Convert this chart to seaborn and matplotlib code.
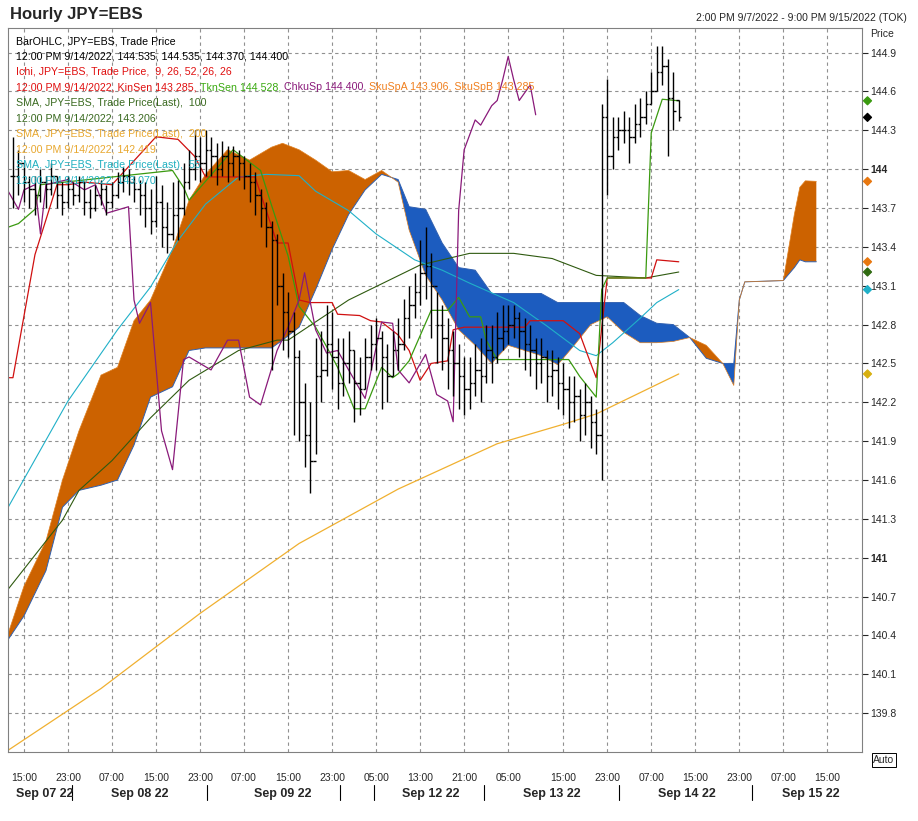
import matplotlib
matplotlib.use("Agg")
import matplotlib.pyplot as plt
import numpy as np
import pandas as pd
import seaborn as sns

# ---- price bars (hour index, 0 = Sep 07 15:00) ----
bar_idx = list(range(-2, 120))
closes = [143.95,144.05,143.90,143.85,143.80,143.90,143.85,143.95,143.80,143.75,
          143.85,143.80,143.90,143.75,143.70,143.80,143.85,143.75,143.80,143.90,
          143.95,143.90,143.85,143.80,143.70,143.60,143.75,143.55,143.50,143.65,
          143.70,143.90,144.00,144.10,144.05,144.15,144.10,144.00,144.10,144.05,
          144.10,144.05,143.95,143.90,143.80,143.70,143.55,143.45,143.10,142.90,
          142.75,142.55,142.20,141.95,141.75,142.40,142.45,142.65,142.55,142.35,
          142.50,142.60,142.35,142.30,142.55,142.65,142.70,142.55,142.40,142.60,
          142.65,142.85,142.95,143.05,143.20,143.25,143.10,142.80,142.70,142.60,
          142.50,142.40,142.30,142.35,142.45,142.40,142.60,142.55,142.70,142.75,
          142.80,142.85,142.75,142.65,142.60,142.50,142.55,142.40,142.45,142.35,
          142.30,142.20,142.25,142.10,142.20,142.05,141.95,144.40,144.10,144.25,
          144.30,144.30,144.25,144.35,144.40,144.50,144.60,144.75,144.80,144.55,144.45,144.40]
highs = [144.25,144.15,144.05,143.95,143.95,144.00,143.95,144.05,143.95,143.90,
         143.95,143.90,143.95,143.90,143.85,143.88,143.92,143.88,143.90,143.98,
         144.02,144.00,143.95,143.92,143.90,143.85,143.95,143.88,143.75,143.90,
         143.92,144.05,144.15,144.30,144.25,144.30,144.25,144.20,144.22,144.18,
         144.18,144.15,144.10,144.05,143.98,143.85,143.75,143.60,143.50,143.20,
         143.05,142.90,142.60,142.35,142.20,142.70,142.75,142.95,142.90,142.70,
         142.70,142.75,142.60,142.55,142.70,142.80,142.85,142.75,142.65,142.75,
         142.85,143.00,143.10,143.20,143.45,143.55,143.35,143.05,142.95,142.85,
         142.75,142.65,142.55,142.55,142.65,142.70,142.80,142.80,142.90,142.95,
         142.95,142.95,142.90,142.85,142.80,142.70,142.70,142.60,142.60,142.55,
         142.50,142.40,142.40,142.30,142.35,142.25,142.15,144.50,144.70,144.40,
         144.40,144.45,144.40,144.50,144.55,144.60,144.75,144.95,144.95,144.85,144.75,144.535]
lows = [143.70,143.80,143.75,143.70,143.65,143.75,143.70,143.80,143.70,143.65,
        143.70,143.72,143.75,143.65,143.62,143.68,143.72,143.65,143.70,143.78,
        143.82,143.80,143.75,143.65,143.55,143.50,143.55,143.40,143.35,143.45,
        143.45,143.65,143.85,143.92,143.90,143.95,143.95,143.88,143.95,143.90,
        143.95,143.92,143.85,143.75,143.65,143.55,143.40,142.45,142.95,142.60,
        142.55,141.95,141.90,141.70,141.50,141.80,142.20,142.40,142.30,142.15,
        142.25,142.35,142.05,142.10,142.30,142.45,142.45,142.15,142.20,142.40,
        142.45,142.60,142.70,142.85,142.95,143.00,142.70,142.50,142.45,142.30,
        142.25,142.15,142.10,142.15,142.25,142.20,142.35,142.35,142.50,142.60,
        142.65,142.70,142.55,142.45,142.40,142.30,142.35,142.20,142.25,142.15,
        142.10,142.00,142.05,141.90,141.95,141.85,141.80,141.60,143.80,144.00,
        144.15,144.20,144.05,144.20,144.25,144.35,144.50,144.60,144.65,144.10,144.30,144.37]
opens = [closes[0]] + closes[:-1]
opens[-1] = 144.535

# ---- ichimoku cloud ----
cloud_idx = [-3,0,4,7,10,14,17,20,23,27,30,33,37,41,45,47,50,53,56,59,62,65,68,
             70,73,76,79,82,85,88,91,94,97,100,103,106,109,112,115,118,121,124,127,129,
             130,131,138,140,141,142,144]
span_a = [140.40,140.78,141.13,141.60,141.98,142.41,142.47,142.83,142.99,143.38,143.76,143.96,
          144.15,144.07,144.17,144.20,144.15,144.07,143.98,143.99,143.92,143.99,143.90,
          143.53,143.18,142.99,142.76,142.64,142.50,142.64,142.60,142.56,142.49,142.64,142.80,
          142.86,142.74,142.66,142.66,142.67,142.70,142.64,142.50,142.33,
          142.99,143.13,143.14,143.65,143.86,143.91,143.906]
span_b = [140.36,140.55,140.90,141.39,141.52,141.56,141.60,141.87,142.24,142.32,142.60,142.62,
          142.62,142.62,142.62,142.68,142.78,143.07,143.38,143.65,143.84,143.96,143.92,
          143.71,143.69,143.43,143.24,143.22,143.04,143.04,143.04,143.04,142.97,142.97,142.97,
          142.97,142.97,142.87,142.81,142.80,142.70,142.54,142.50,142.50,
          142.99,143.13,143.14,143.24,143.30,143.285,143.285]

# ---- indicator lines (hour index, price) ----
kijun_x = [-3,-2,2,6,8,11,16,24,28,31,33,42,46,48,50,52,56,57,61,63,65,68,70,72,74,77,78,80,
           91,92,98,101,103,104,106,114,115,119]
kijun_y = [142.39,142.39,143.34,143.88,143.88,143.90,143.88,144.25,144.23,144.10,143.94,143.94,
           143.43,143.43,142.99,142.97,142.97,142.88,142.87,142.83,142.82,142.72,142.60,142.37,
           142.50,142.52,142.76,142.78,142.78,142.83,142.83,142.73,142.50,142.39,143.16,143.16,
           143.30,143.285]
tenkan_x = [-3,-1,2,3,27,29,30,38,43,45,48,50,53,55,57,60,62,65,67,68,70,74,77,79,81,83,84,86,
            99,101,104,105,106,113,114,116,119]
tenkan_y = [143.55,143.58,143.69,143.88,143.99,143.86,143.76,144.15,143.99,143.72,143.33,142.94,
            142.78,142.63,142.47,142.15,142.15,142.47,142.39,142.42,142.52,142.91,142.91,143.01,
            142.86,142.86,142.68,142.53,142.53,142.40,142.24,143.07,143.16,143.16,144.28,144.54,144.528]
chikou_x = [-3,-1,0,2,3,4,8,11,13,15,19,20,21,23,25,27,29,30,34,37,39,41,43,46,48,50,51,53,55,57,
            59,62,65,67,68,70,73,75,77,78,79,80,82,83,85,86,87,88,89,90,92,93]
chikou_y = [143.84,143.69,143.84,143.88,143.50,143.88,143.92,143.84,143.88,143.66,143.71,142.99,
            142.81,142.97,141.98,141.68,142.53,142.55,142.45,142.68,142.68,142.24,142.18,142.60,
            142.78,142.99,143.20,142.76,142.58,142.60,142.45,142.23,142.82,142.81,142.45,142.35,
            142.57,142.26,142.21,142.05,143.68,144.15,144.38,144.34,144.49,144.53,144.69,144.87,
            144.69,144.53,144.65,144.42]
sma100_x = [-3,7,10,16,23,30,39,46,48,59,72,76,81,89,96,104,113,119]
sma100_y = [140.75,141.29,141.52,141.75,142.08,142.37,142.60,142.68,142.68,142.99,143.26,143.30,
            143.35,143.35,143.31,143.18,143.16,143.206]
sma55_x = [-3,8,17,23,28,33,39,44,50,53,59,64,71,76,81,89,95,101,104,107,112,115,119]
sma55_y = [141.38,142.21,142.76,143.09,143.45,143.73,143.94,143.96,143.95,143.83,143.68,143.50,
           143.30,143.22,143.12,142.97,142.79,142.60,142.56,142.66,142.85,142.97,143.07]
sma200_x = [-3,14,32,50,68,86,98,104,119]
sma200_y = [139.51,139.99,140.57,141.11,141.53,141.88,142.03,142.11,142.419]

tick_pos = [0,8,16,24,32,40,48,56,64,72,80,88,98,106,114,122,130,138,146]
tick_txt = ["15:00","23:00","07:00","15:00","23:00","07:00","15:00","23:00","05:00","13:00",
            "21:00","05:00","15:00","23:00","07:00","15:00","23:00","07:00","15:00"]
day_pos = [3.8,21,47,74,96,120.5,143]
day_txt = ["Sep 07 22","Sep 08 22","Sep 09 22","Sep 12 22","Sep 13 22","Sep 14 22","Sep 15 22"]
day_sep = [8.7,33.3,57.5,63.6,83.6,108.2,132.4]
price_ticks = [139.8,140.1,140.4,140.7,141.0,141.3,141.6,141.9,142.2,142.5,142.8,143.1,143.4,
               143.7,144.0,144.3,144.6,144.9]
marker_vals = [144.528,144.400,143.906,143.285,143.206,143.070,142.419]
marker_cols = ["#3a9a10","black","#e87810","#e87810","#2f6a10","#20b0c8","#d8b010"]

sns.set_style("white")
plt.rcParams['font.family'] = ['Arial', 'Liberation Sans', 'DejaVu Sans']

fig = plt.figure(figsize=(9.18, 8.21), dpi=100)
ax = fig.add_axes([8/918, 1-752/821, 854/918, 724/821])

ca = np.array(span_a); cb = np.array(span_b)
ax.fill_between(cloud_idx, ca, cb, where=ca >= cb, interpolate=True, color="#cc6200", lw=0)
ax.fill_between(cloud_idx, ca, cb, where=ca < cb, interpolate=True, color="#1c5cbf", lw=0)
sns.lineplot(x=cloud_idx, y=span_b, ax=ax, color="#3060b0", lw=0.7)
sns.lineplot(x=cloud_idx, y=span_a, ax=ax, color="#e08020", lw=0.5)

sns.lineplot(x=sma200_x, y=sma200_y, ax=ax, color="#f0b030", lw=0.9)
sns.lineplot(x=sma100_x, y=sma100_y, ax=ax, color="#2f5a10", lw=0.8)
sns.lineplot(x=sma55_x, y=sma55_y, ax=ax, color="#20b0c8", lw=0.8)
sns.lineplot(x=kijun_x, y=kijun_y, ax=ax, color="#d01010", lw=0.9)
sns.lineplot(x=tenkan_x, y=tenkan_y, ax=ax, color="#3a9a10", lw=0.9)
sns.lineplot(x=chikou_x, y=chikou_y, ax=ax, color="#8a1a7a", lw=0.9)

bars = pd.DataFrame({"i": bar_idx, "o": opens, "h": highs, "l": lows, "c": closes})
ax.vlines(bars.i, bars.l, bars.h, color="black", lw=1.0)
ax.hlines(bars.o, bars.i - 0.45, bars.i, color="black", lw=1.0)
ax.hlines(bars.c, bars.i, bars.i + 0.45, color="black", lw=1.0)

ax.set_xlim(-2.9, 152.3)
ax.set_ylim(139.5, 145.09)
ax.yaxis.tick_right()
ax.set_yticks(price_ticks)
ax.set_yticklabels(["141" if v == 141.0 else "144" if v == 144.0 else f"{v:.1f}" for v in price_ticks])
for lab in ax.get_yticklabels():
    if lab.get_text() in ("141", "144"):
        lab.set_fontweight("bold")
ax.set_xticks(tick_pos)
ax.set_xticklabels(tick_txt)
ax.tick_params(axis="both", labelsize=7.5, direction="out")
ax.tick_params(axis="x", length=6, pad=9)
ax.tick_params(axis="y", length=4, pad=2)
ax.grid(True, color="#909090", ls=(0, (3, 3)), lw=0.8)
for s in ax.spines.values():
    s.set_color("#808080")
    s.set_linewidth(0.8)
ax.scatter([153.3] * len(marker_vals), marker_vals, marker="D", s=16, c=marker_cols,
           clip_on=False, zorder=5)

for p, t in zip(day_pos, day_txt):
    ax.text(p, -0.058, t, transform=ax.get_xaxis_transform(), ha="center", va="center",
            fontsize=9, fontweight="bold")
for p in day_sep:
    ax.plot([p, p], [-0.045, -0.066], transform=ax.get_xaxis_transform(), color="black",
            lw=0.8, clip_on=False)

fig.text(10/918, 1-14/821, "Hourly JPY=EBS", fontsize=12, fontweight="bold", va="center")
fig.text(907/918, 1-18/821, "2:00 PM 9/7/2022 - 9:00 PM 9/15/2022 (TOK)", fontsize=7.5,
         ha="right", va="center")
fig.text(870/918, 1-34/821, "Price", fontsize=7.5, va="center")
fig.text(884/918, 1-760/821, "Auto", fontsize=7.5, ha="center", va="center",
         bbox=dict(boxstyle="square,pad=0.15", fc="white", ec="black", lw=0.7))

legend_lines = [
    [("BarOHLC, JPY=EBS, Trade Price", "black")],
    [("12:00 PM 9/14/2022, 144.535, 144.535, 144.370, 144.400", "black")],
    [("Ichi, JPY=EBS, Trade Price,  9, 26, 52, 26, 26", "#e01010")],
    [("12:00 PM 9/14/2022, KinSen 143.285, ", "#e01010"), ("TknSen 144.528, ", "#3aaa10"),
     ("ChkuSp 144.400, ", "#8a1a7a"), ("SkuSpA 143.906, SkuSpB 143.285", "#f08020")],
    [("SMA, JPY=EBS, Trade Price(Last),  100", "#3a6a20")],
    [("12:00 PM 9/14/2022, 143.206", "#3a6a20")],
    [("SMA, JPY=EBS, Trade Price(Last),  200", "#e8a830")],
    [("12:00 PM 9/14/2022, 142.419", "#e8a830")],
    [("SMA, JPY=EBS, Trade Price(Last),  55", "#20b0c0")],
    [("12:00 PM 9/14/2022, 143.070", "#20b0c0")],
]
fig.canvas.draw()
rend = fig.canvas.get_renderer()
for k, parts in enumerate(legend_lines):
    x = 16/918
    y = 1 - (41 + k * 15.5)/821
    for txt, col in parts:
        t = fig.text(x, y, txt, fontsize=7.7, color=col, va="center", zorder=10)
        bb = t.get_window_extent(renderer=rend)
        x += bb.width / fig.bbox.width

fig.savefig("out.png", dpi=100)
